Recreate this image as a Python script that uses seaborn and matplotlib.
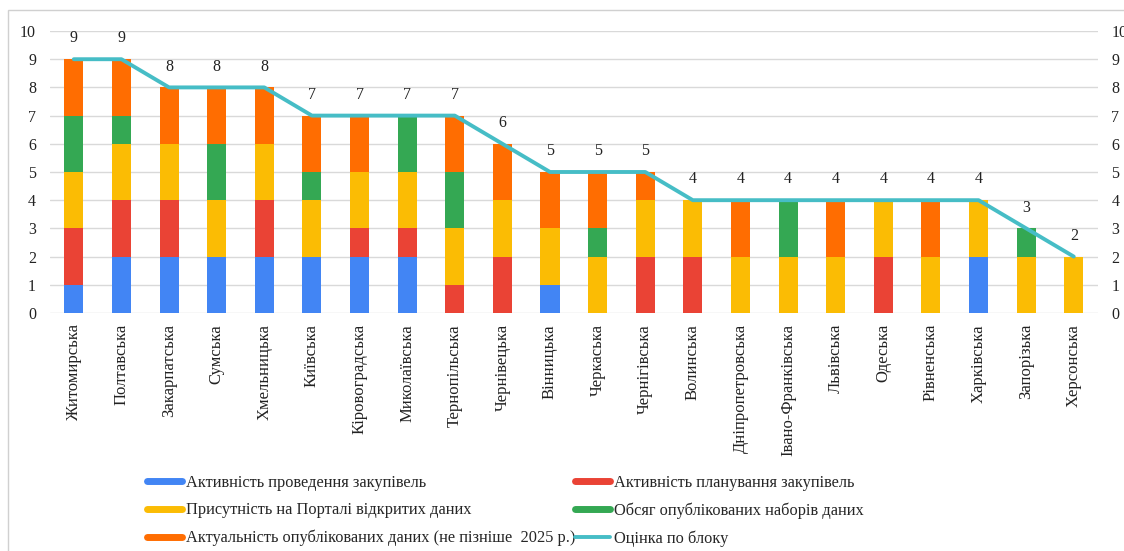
import matplotlib
matplotlib.use("Agg")
import matplotlib.pyplot as plt
from matplotlib.lines import Line2D
from matplotlib.patches import Rectangle
import seaborn as sns
import numpy as np
import pandas as pd

# Області (в порядку спадання оцінки)
regions = ['Житомирська', 'Полтавська', 'Закарпатська', 'Сумська', 'Хмельницька',
           'Київська', 'Кіровоградська', 'Миколаївська', 'Тернопільська', 'Чернівецька',
           'Вінницька', 'Черкаська', 'Чернігівська', 'Волинська', 'Дніпропетровська',
           'Івано-Франківська', 'Львівська', 'Одеська', 'Рівненська', 'Харківська',
           'Запорізька', 'Херсонська']

# Складові оцінки
procurement = [1, 2, 2, 2, 2, 2, 2, 2, 0, 0, 1, 0, 0, 0, 0, 0, 0, 0, 0, 2, 0, 0]
planning    = [2, 2, 2, 0, 2, 0, 1, 1, 1, 2, 0, 0, 2, 2, 0, 0, 0, 2, 0, 0, 0, 0]
portal      = [2, 2, 2, 2, 2, 2, 2, 2, 2, 2, 2, 2, 2, 2, 2, 2, 2, 2, 2, 2, 2, 2]
volume      = [2, 1, 0, 2, 0, 1, 0, 2, 2, 0, 0, 1, 0, 0, 0, 2, 0, 0, 0, 0, 1, 0]
actuality   = [2, 2, 2, 2, 2, 2, 2, 0, 2, 2, 2, 2, 1, 0, 2, 0, 2, 0, 2, 0, 0, 0]
block_score = [9, 9, 8, 8, 8, 7, 7, 7, 7, 6, 5, 5, 5, 4, 4, 4, 4, 4, 4, 4, 3, 2]

series_names = ['Активність проведення закупівель',
                'Активність планування закупівель',
                'Присутність на Порталі відкритих даних',
                'Обсяг опублікованих наборів даних',
                'Актуальність опублікованих даних (не пізніше  2025 р.)']
line_name = 'Оцінка по блоку'

colors = ['#4285F4', '#EA4335', '#FBBC04', '#34A853', '#FF6D01']
line_color = '#46BDC6'

sns.set_theme(style='white')
plt.rcParams['font.family'] = ['Liberation Serif', 'DejaVu Serif']

df = pd.DataFrame({'region': regions})
layers = [procurement, planning, portal, volume, actuality]

fig = plt.figure(figsize=(11.24, 5.51), dpi=100)
ax = fig.add_axes([0.0445, 0.432, 0.932, 0.5117])

bottom = np.zeros(len(regions))
for vals, name, col in zip(layers, series_names, colors):
    df['v'] = vals
    sns.barplot(data=df, x='region', y='v', color=col, saturation=1, width=0.4,
                bottom=bottom, linewidth=0, ax=ax, zorder=2)
    bottom = bottom + np.array(vals)

xs = np.arange(len(regions))
sns.lineplot(x=xs, y=block_score, color=line_color, linewidth=2.8, ax=ax,
             zorder=3, solid_capstyle='round')

for x, v in zip(xs, block_score):
    ax.annotate(str(v), (x, v), xytext=(0, 15), textcoords='offset points',
                ha='center', va='center', fontsize=11.5, color='#222222')

ax.set_xlim(-0.5, len(regions) - 0.5)
ax.set_ylim(0, 10)
ax.set_yticks(range(0, 11))
ax.yaxis.grid(True, color='#d9d9d9', linewidth=1)
ax.set_axisbelow(True)
for s in ax.spines.values():
    s.set_visible(False)
ax.set_xlabel('')
ax.set_ylabel('')
ax.set_xticks(xs)
ax.set_xticklabels(regions, rotation=90, fontsize=12, color='#222222')
ax.tick_params(axis='x', length=0, pad=8)
ax.tick_params(axis='y', length=0, pad=10, labelsize=11.5, labelcolor='#222222')

ax2 = ax.twinx()
ax2.set_ylim(0, 10)
ax2.set_yticks(range(0, 11))
ax2.tick_params(axis='y', length=0, pad=10, labelsize=11.5, labelcolor='#222222')
for s in ax2.spines.values():
    s.set_visible(False)
ax2.grid(False)

handles = [Line2D([], [], color=colors[0], lw=5),
           Line2D([], [], color=colors[2], lw=5),
           Line2D([], [], color=colors[4], lw=5),
           Line2D([], [], color=colors[1], lw=5),
           Line2D([], [], color=colors[3], lw=5),
           Line2D([], [], color=line_color, lw=2.8)]
labels = [series_names[0], series_names[2], series_names[4],
          series_names[1], series_names[3], line_name]
fig.legend(handles, labels, ncol=2, loc='upper left',
           bbox_to_anchor=(0.131, 0.138), frameon=False, fontsize=11.8,
           handlelength=2.1, handletextpad=0.25, columnspacing=0.0,
           labelspacing=0.7, borderpad=0, borderaxespad=0)

fig.patches.append(Rectangle((8 / 1124, -0.1), 1.2, 1 - 10 / 551 + 0.1,
                             transform=fig.transFigure, fill=False,
                             edgecolor='#d0d0d0', linewidth=1))

fig.savefig('out.png', dpi=100)
